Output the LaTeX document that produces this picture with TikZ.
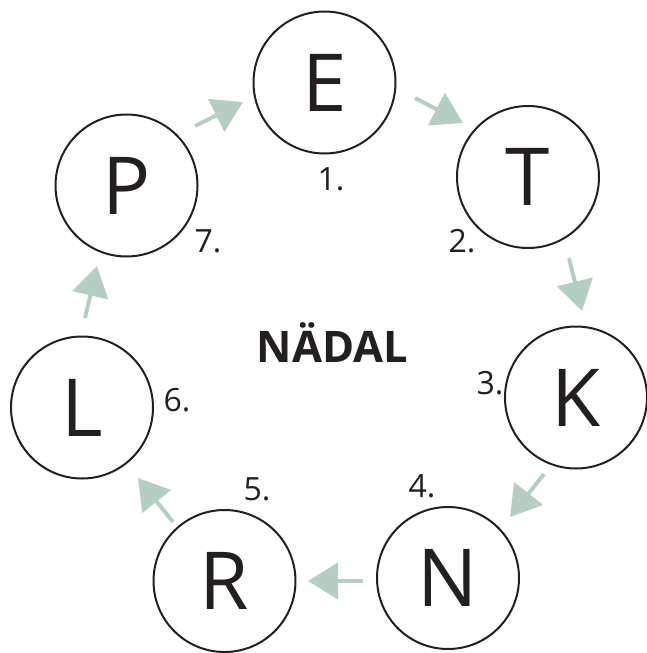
\documentclass[tikz,border=0pt]{standalone}
\usepackage{fontspec}
\setmainfont{Open Sans}
\usetikzlibrary{arrows.meta}
\definecolor{ink}{RGB}{35,31,32}
\definecolor{sage}{RGB}{181,206,194}
\tikzset{
  stage/.style={circle, draw=ink, line width=2pt, minimum size=142pt, inner sep=0pt,
    text=ink, font=\fontsize{80}{80}\selectfont},
  num/.style={inner sep=0pt, text=ink, font=\fontsize{32}{32}\selectfont},
  arr/.style={draw=sage, line width=4pt, -{Triangle[length=30pt,width=36pt]}}
}
\begin{document}
\begin{tikzpicture}[x=1pt,y=-1pt]
\useasboundingbox (0,0) rectangle (646,653);
% circles
\node[stage] (E) at (324.5,82.5) {E};
\node[stage] (T) at (528,177) {T};
\node[stage] (K) at (576,397.5) {K};
\node[stage] (N) at (448,578) {N};
\node[stage] (R) at (224.5,581) {R};
\node[stage] (L) at (82,407.5) {L};
\node[stage] (P) at (126.5,185.5) {P};
% numbers
\node[num] (n1) at (331,179) {1.};
\node[num] (n2) at (462,241) {2.};
\node[num] (n3) at (490,383) {3.};
\node[num] (n4) at (422,486) {4.};
\node[num] (n5) at (257,489) {5.};
\node[num] (n6) at (177,400) {6.};
\node[num] (n7) at (208,241) {7.};
% title
\node[text=ink, font=\fontsize{43.5}{43.5}\selectfont\bfseries] (title) at (332.5,343) {NÄDAL};
% arrow end points
\coordinate (pe1) at (195,126);  \coordinate (pe2) at (243,102);
\coordinate (et1) at (415,98);   \coordinate (et2) at (463,123);
\coordinate (tk1) at (569,258);  \coordinate (tk2) at (582,311);
\coordinate (kn1) at (544,474);  \coordinate (kn2) at (510,517);
\coordinate (nr1) at (363,581);  \coordinate (nr2) at (308,581);
\coordinate (rl1) at (173,522);  \coordinate (rl2) at (138,478);
\coordinate (lp1) at (85,318);   \coordinate (lp2) at (97,266);
\draw[arr] (pe1) -- (pe2);
\draw[arr] (et1) -- (et2);
\draw[arr] (tk1) -- (tk2);
\draw[arr] (kn1) -- (kn2);
\draw[arr] (nr1) -- (nr2);
\draw[arr] (rl1) -- (rl2);
\draw[arr] (lp1) -- (lp2);
\end{tikzpicture}
\end{document}
